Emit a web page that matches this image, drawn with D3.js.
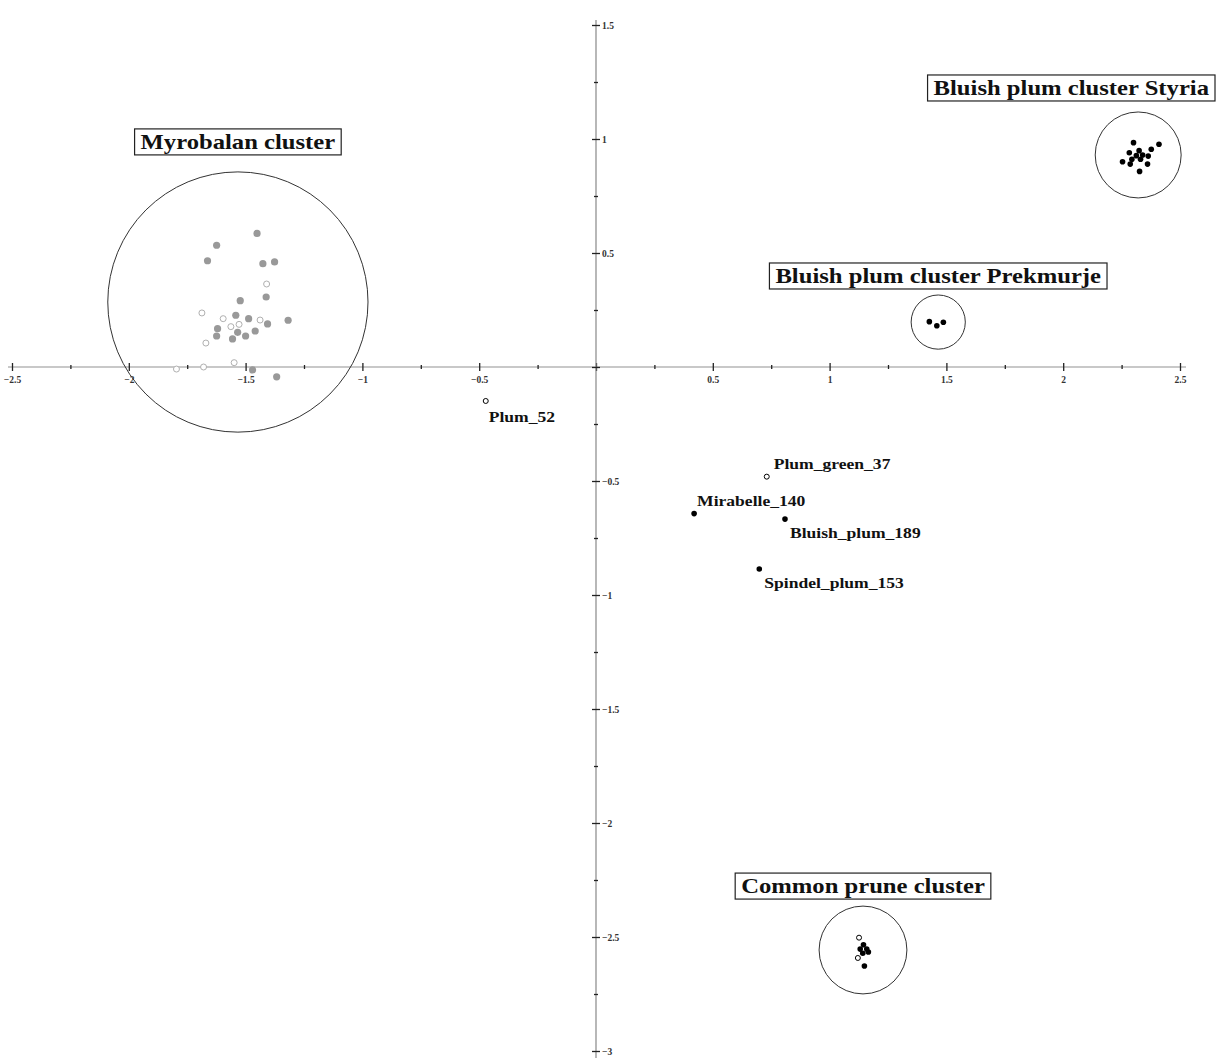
<!DOCTYPE html>
<html>
<head>
<meta charset="utf-8">
<script src="https://cdn.jsdelivr.net/npm/d3@7"></script>
<style>
  body { margin: 0; background: #fff; }
  svg { font-family: "Liberation Serif", "DejaVu Serif", serif; }
</style>
</head>
<body>
<div id="chart"></div>
<script>
// Myrobalan cluster: filled grey and open grey points
const myroFilledX = [-1.451, -1.624, -1.663, -1.426, -1.376, -1.412, -1.523, -1.542, -1.487, -1.318, -1.406, -1.620, -1.459, -1.534, -1.500, -1.624, -1.556, -1.367, -1.470];
const myroFilledY = [0.586, 0.534, 0.466, 0.453, 0.461, 0.307, 0.291, 0.227, 0.212, 0.205, 0.189, 0.168, 0.158, 0.152, 0.136, 0.136, 0.123, -0.043, -0.013];
const myroOpenX = [-1.410, -1.687, -1.596, -1.438, -1.563, -1.528, -1.670, -1.549, -1.680, -1.796];
const myroOpenY = [0.364, 0.237, 0.212, 0.206, 0.177, 0.187, 0.105, 0.019, 0.000, -0.009];

// Bluish plum clusters (black filled)
const styriaX = [2.301, 2.410, 2.377, 2.283, 2.325, 2.340, 2.313, 2.364, 2.294, 2.331, 2.254, 2.287, 2.361, 2.327];
const styriaY = [0.984, 0.977, 0.955, 0.940, 0.949, 0.930, 0.927, 0.925, 0.911, 0.911, 0.900, 0.890, 0.890, 0.858];
const prekX = [1.427, 1.459, 1.487];
const prekY = [0.199, 0.181, 0.196];

// Common prune cluster
const pruneFilledX = [1.145, 1.131, 1.159, 1.166, 1.142, 1.149];
const pruneFilledY = [-2.534, -2.553, -2.553, -2.566, -2.571, -2.627];
const pruneOpenX = [1.126, 1.121];
const pruneOpenY = [-2.503, -2.592];

// single labelled accessions
const singleNames = ["Plum_52", "Plum_green_37", "Mirabelle_140", "Bluish_plum_189", "Spindel_plum_153"];
const singleX = [-0.472, 0.731, 0.420, 0.809, 0.699];
const singleY = [-0.149, -0.481, -0.643, -0.667, -0.886];
const singleOpen = [true, true, false, false, false];

// cluster circles
const clusterNames = ["Myrobalan cluster", "Bluish plum cluster Styria", "Bluish plum cluster Prekmurje", "Common prune cluster"];
const clusterX = [-1.533, 2.321, 1.465, 1.143];
const clusterY = [0.285, 0.930, 0.197, -2.557];
const clusterR = [0.557, 0.184, 0.116, 0.188];

const xTicks = d3.range(-2.5, 2.51, 0.25);
const yTicks = d3.range(-3, 1.51, 0.25);

const width = 1217, height = 1063;

const x = d3.scaleLinear().domain([-2.5, 2.5]).range([12, 1180]);
const y = d3.scaleLinear().domain([1.5, -3]).range([25, 1051]);

const svg = d3.select("#chart").append("svg")
    .attr("width", width)
    .attr("height", height);

const isMajor = v => Math.abs(v * 2 - Math.round(v * 2)) < 1e-6;
const fmt = v => (Math.abs(v) < 1e-6 || !isMajor(v)) ? "" : d3.format("")(+v.toFixed(2));

// horizontal axis
const xAxis = svg.append("g")
    .attr("transform", "translate(0," + y(0) + ")")
    .call(d3.axisBottom(x).tickValues(xTicks).tickFormat(fmt).tickSizeOuter(0));
xAxis.select(".domain").remove();
xAxis.insert("line", ":first-child")
    .attr("x1", 8).attr("x2", 1186)
    .attr("stroke", "#c8c8c8").attr("stroke-width", 2);
xAxis.selectAll(".tick line")
    .attr("y1", d => isMajor(d) ? -4 : -2)
    .attr("y2", d => isMajor(d) ? 4 : 2)
    .attr("stroke", "#222")
    .attr("stroke-width", 1.3);
xAxis.selectAll(".tick text")
    .attr("y", 9)
    .attr("font-size", 9.5)
    .attr("font-weight", "bold")
    .attr("font-family", "Liberation Serif, serif")
    .attr("fill", "#333");

// vertical axis
const yAxis = svg.append("g")
    .attr("transform", "translate(" + x(0) + ",0)")
    .call(d3.axisRight(y).tickValues(yTicks).tickFormat(fmt).tickSizeOuter(0));
yAxis.select(".domain").remove();
yAxis.insert("line", ":first-child")
    .attr("y1", 20).attr("y2", 1058)
    .attr("stroke", "#888").attr("stroke-width", 1.2);
yAxis.selectAll(".tick line")
    .attr("x1", d => isMajor(d) ? -4 : -2)
    .attr("x2", d => isMajor(d) ? 4 : 2)
    .attr("stroke", "#222")
    .attr("stroke-width", 1.3);
yAxis.selectAll(".tick text")
    .attr("x", 6)
    .attr("font-size", 9.5)
    .attr("font-weight", "bold")
    .attr("font-family", "Liberation Serif, serif")
    .attr("fill", "#333");

// cluster circles
svg.append("g").selectAll("circle")
    .data(clusterNames)
    .enter().append("circle")
    .attr("cx", (d, i) => x(clusterX[i]))
    .attr("cy", (d, i) => y(clusterY[i]))
    .attr("r", (d, i) => x(clusterR[i]) - x(0))
    .attr("fill", "none")
    .attr("stroke", "#333")
    .attr("stroke-width", 1);

// points
function drawPoints(xs, ys, r, fill, stroke, sw) {
    svg.append("g").selectAll("circle")
        .data(xs)
        .enter().append("circle")
        .attr("cx", d => x(d))
        .attr("cy", (d, i) => y(ys[i]))
        .attr("r", r)
        .attr("fill", fill)
        .attr("stroke", stroke)
        .attr("stroke-width", sw);
}
drawPoints(myroOpenX, myroOpenY, 3, "#fff", "#b0b0b0", 1);
drawPoints(myroFilledX, myroFilledY, 3.6, "#999", "none", 0);
drawPoints(styriaX, styriaY, 2.8, "#000", "none", 0);
drawPoints(prekX, prekY, 2.8, "#000", "none", 0);
drawPoints(pruneFilledX, pruneFilledY, 2.8, "#000", "none", 0);
drawPoints(pruneOpenX, pruneOpenY, 2.5, "#fff", "#000", 1);

// the original lettering is a wide heavy serif: stretch Liberation Serif a little
const stretch = (sel, k) => sel.each(function () {
    const len = this.getComputedTextLength();
    d3.select(this).attr("textLength", len * k).attr("lengthAdjust", "spacingAndGlyphs");
});

const single = svg.append("g");
single.selectAll("circle")
    .data(singleNames)
    .enter().append("circle")
    .attr("cx", (d, i) => x(singleX[i]))
    .attr("cy", (d, i) => y(singleY[i]))
    .attr("r", (d, i) => singleOpen[i] ? 2.5 : 2.8)
    .attr("fill", (d, i) => singleOpen[i] ? "#fff" : "#000")
    .attr("stroke", "#000")
    .attr("stroke-width", (d, i) => singleOpen[i] ? 1 : 0);

// label offsets (px) relative to their point
const labelDx = [3, 7, 3, 5, 5];
const labelDy = [21, -8, -8, 19, 19];
single.selectAll("text")
    .data(singleNames)
    .enter().append("text")
    .attr("x", (d, i) => x(singleX[i]) + labelDx[i])
    .attr("y", (d, i) => y(singleY[i]) + labelDy[i])
    .attr("font-size", 15)
    .attr("font-weight", "bold")
    .attr("fill", "#111")
    .text(d => d)
    .call(stretch, 1.17);

// cluster title boxes, centred above the circles (kept inside the page)
const titleGap = [17, 11, 6, 7];
const titles = svg.append("g");
clusterNames.forEach((name, i) => {
    const g = titles.append("g");
    const t = g.append("text")
        .attr("font-size", 22)
        .attr("font-weight", "bold")
        .attr("fill", "#111")
        .attr("text-anchor", "middle")
        .text(name);
    const w0 = t.node().getComputedTextLength();
    t.attr("textLength", w0 * 1.12).attr("lengthAdjust", "spacingAndGlyphs");
    const w = w0 * 1.12 + 12;
    const h = 26;
    let cx = x(clusterX[i]);
    if (cx + w / 2 > width - 2) cx = width - 2 - w / 2;
    const bottom = y(clusterY[i]) - (x(clusterR[i]) - x(0)) - titleGap[i];
    g.insert("rect", "text")
        .attr("x", cx - w / 2)
        .attr("y", bottom - h)
        .attr("width", w)
        .attr("height", h)
        .attr("fill", "#fff")
        .attr("stroke", "#222")
        .attr("stroke-width", 1.2);
    t.attr("x", cx).attr("y", bottom - 6);
});
</script>
</body>
</html>
